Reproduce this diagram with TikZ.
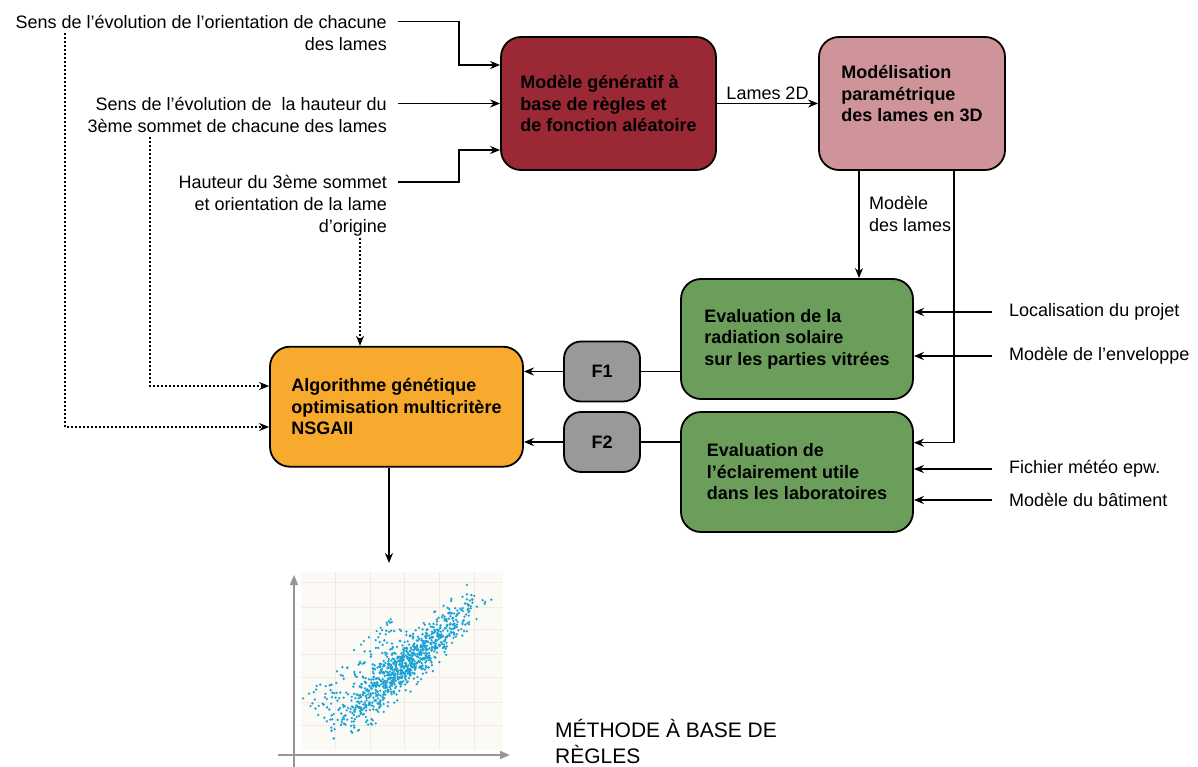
\documentclass[tikz,border=0pt]{standalone}
\usepackage{fontspec}
\setmainfont{Liberation Sans}
\usetikzlibrary{arrows.meta, positioning}

\definecolor{genred}{RGB}{155,40,53}
\definecolor{parampink}{RGB}{207,148,153}
\definecolor{evalgreen}{RGB}{106,158,90}
\definecolor{algoorange}{RGB}{248,170,46}
\definecolor{fgray}{RGB}{153,153,153}
\definecolor{plotbg}{RGB}{252,250,245}
\definecolor{gridc}{RGB}{240,235,228}
\definecolor{dotblue}{RGB}{26,163,214}
\definecolor{axisgray}{RGB}{150,150,150}

\begin{document}
\begin{tikzpicture}[x=1pt, y=-1pt,
  every node/.style={font=\fontsize{18}{21.7}\selectfont},
  block/.style={rectangle, draw, line width=1.8pt, rounded corners=20pt, align=left,
    font=\fontsize{18}{21.5}\selectfont\bfseries},
  fbox/.style={block, fill=fgray, minimum width=76, minimum height=60, rounded corners=17pt, align=center},
  note/.style={inner sep=0pt},
  flow/.style={-{Stealth[length=10pt,width=8pt]}, line width=1.5pt},
  link/.style={line width=1.5pt},
  hint/.style={flow, line width=1.8pt, dash pattern=on 1.8pt off 2.2pt},
  gridline/.style={gridc, line width=0.8pt},
  axis/.style={axisgray, line width=1.5pt, -{Triangle[length=10pt,width=8pt]}}
]
\useasboundingbox (0,0) rectangle (1198,767);

% main blocks
\node[block, fill=genred, minimum width=215, minimum height=133] (gen) at (608.5,103.5)
  {Modèle génératif à\\base de règles et\\de fonction aléatoire};
\node[block, fill=parampink, minimum width=186, minimum height=133, text depth=20pt] (param) at (912,103.5)
  {Modélisation\\paramétrique\\des lames en 3D};
\node[block, fill=evalgreen, minimum width=232, minimum height=120] (solar) at (797,339)
  {Evaluation de la\\radiation solaire\\sur les parties vitrées};
\node[block, fill=evalgreen, minimum width=232, minimum height=120] (daylight) at (797,472)
  {Evaluation de\\l’éclairement utile\\dans les laboratoires};
\node[block, fill=algoorange, minimum width=253, minimum height=120] (algo) at (396.5,406.7)
  {Algorithme génétique\\optimisation multicritère\\NSGAII};
\node[fbox] (f1) at (602,371.5) {F1};
\node[fbox] (f2) at (602,442) {F2};

% inputs on the left
\node[note, anchor=north east, align=right] (sens1) at (387,15.1)
  {Sens de l’évolution de l’orientation de chacune\\des lames};
\node[note, anchor=north east, align=right] (sens2) at (387,96.9)
  {Sens de l’évolution de \ la hauteur du\\3ème sommet de chacune des lames};
\node[note, anchor=north east, align=right] (haut) at (387,175.4)
  {Hauteur du 3ème sommet\\et orientation de la lame\\d’origine};

% inputs on the right
\node[note, anchor=west] (loc) at (1009,312) {Localisation du projet};
\node[note, anchor=west] (env) at (1009,356) {Modèle de l’enveloppe};
\node[note, anchor=west] (epw) at (1009,469) {Fichier météo epw.};
\node[note, anchor=west] (bat) at (1009,500) {Modèle du bâtiment};

\coordinate (d1) at (65,33);
\coordinate (d2) at (150,137);
\coordinate (d3) at (360,238);
\coordinate (mdrop) at ([xshift=-53pt]param.south);
\coordinate (rdrop) at ([xshift=42pt]param.south);
\coordinate (chart) at (389,563);

% connectors
\draw[flow] ([shift={(11,6.6)}]sens1.north east) -- ++(61,0) |- ([yshift=38.5pt]gen.west);
\draw[flow] ([shift={(11,6.6)}]sens2.north east) -- (gen.west);
\draw[flow] ([shift={(11,6.6)}]haut.north east) -- ++(61,0) |- ([yshift=-46.5pt]gen.west);
\draw[hint] (d1) |- ([yshift=-20.3pt]algo.west);
\draw[hint] (d2) |- ([yshift=20.7pt]algo.west);
\draw[hint] (d3) -- (d3 |- algo.north);

\draw[flow] (gen.east) -- node[above]{Lames 2D} (param.west);
\draw[flow] (mdrop) -- node[right=6pt, pos=0.4, align=left]{Modèle\\des lames} (mdrop |- solar.north);
\draw[flow] (rdrop) |- ([yshift=29.3pt]daylight.east);

\draw[flow] ([xshift=-17pt]loc.west) -- (solar.east |- loc.west);
\draw[flow] ([xshift=-17pt]env.west) -- (solar.east |- env.west);
\draw[flow] ([xshift=-17pt]epw.west) -- (daylight.east |- epw.west);
\draw[flow] ([xshift=-17pt]bat.west) -- (daylight.east |- bat.west);

\draw[link] (solar.west |- f1.east) -- (f1.east);
\draw[flow] (f1.west) -- (algo.east |- f1.west);
\draw[link] (daylight.west |- f2.east) -- (f2.east);
\draw[flow] (f2.west) -- (algo.east |- f2.west);
\draw[flow] (algo.south -| chart) -- (chart);

% Pareto scatter
\fill[plotbg] (301,572) rectangle (503,750);
\foreach \gx in {335,370,404,439,474} \draw[gridline] (\gx,572) -- (\gx,750);
\foreach \gy in {582,607,629,654,677,702,725} \draw[gridline] (301,\gy) -- (503,\gy);
\begin{scope}
  \clip (301,572) rectangle (503,750);
  \pgfmathsetseed{7}
  \foreach \k in {1,...,900}{
    \pgfmathsetmacro{\ta}{55*(rand+rand)}
    \pgfmathsetmacro{\nb}{9*(rand+rand+rand)}
    \fill[dotblue] ({406+0.742*\ta+0.670*\nb},{664-0.670*\ta+0.742*\nb}) circle[radius=1.3pt];
  }
  \foreach \k in {1,...,100}{
    \pgfmathsetmacro{\ta}{60*rand-40}
    \pgfmathsetmacro{\nb}{-16-30*rnd}
    \fill[dotblue] ({406+0.742*\ta+0.670*\nb},{664-0.670*\ta+0.742*\nb}) circle[radius=1.3pt];
  }
\end{scope}
\draw[axis] (294,767) -- (294,575);
\draw[axis] (278,755) -- (510,755);

\node[note, anchor=north west, align=left, font=\fontsize{21}{26}\selectfont] (method) at (555,719)
  {MÉTHODE À BASE DE\\RÈGLES};

\end{tikzpicture}
\end{document}
